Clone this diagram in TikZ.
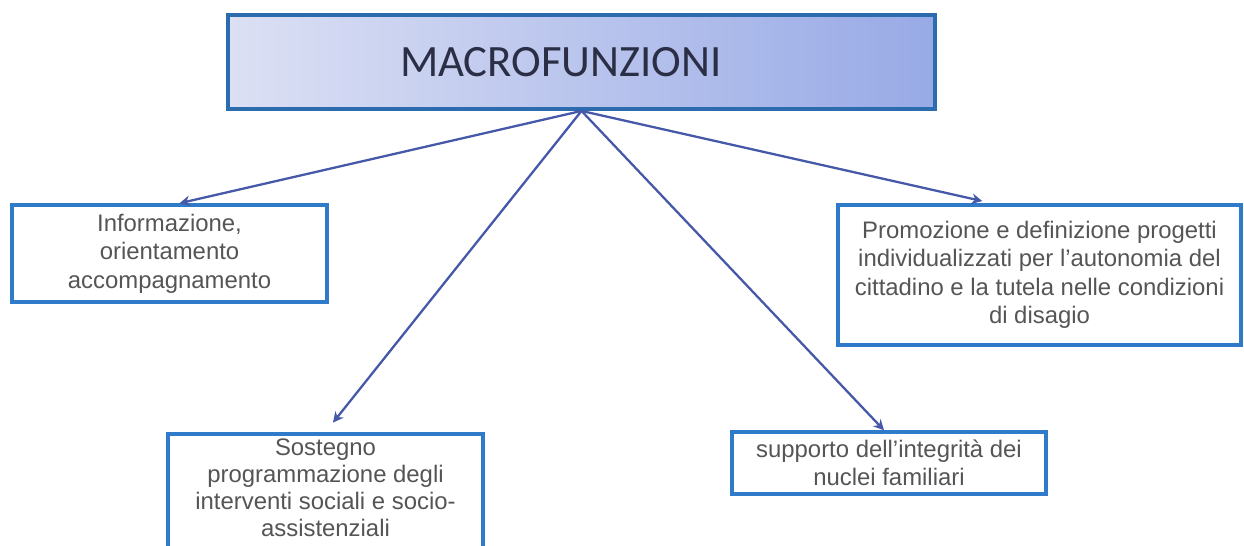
\documentclass[tikz,border=0pt]{standalone}
\usepackage{fontspec}
\setmainfont{Liberation Sans}
\newfontfamily\titlefont{Carlito}
\usepackage{tikz}
\usetikzlibrary{arrows.meta}

\definecolor{boxblue}{HTML}{2F7BC9}
\definecolor{topedge}{HTML}{2C6CAE}
\definecolor{linkblue}{HTML}{4658A8}
\definecolor{txtgray}{HTML}{555555}
\definecolor{titlegray}{HTML}{2B2F45}
\definecolor{shadeleft}{HTML}{DCE0F4}
\definecolor{shaderight}{HTML}{98AAE6}

\tikzset{
  funbox/.style={draw=boxblue, line width=2pt, fill=white, align=center,
    text=txtgray, inner sep=2pt, font=\fontsize{13.6}{16.2}\selectfont},
  link/.style={draw=linkblue, line width=1.3pt, -{Stealth[length=6pt,width=6pt]}}
}

\begin{document}
\begin{tikzpicture}[x=0.02cm, y=-0.02cm]
\useasboundingbox (0,0) rectangle (1244,545);

% draw title box
\node (macro) [draw=topedge, line width=2.2pt, left color=shadeleft, right color=shaderight,
  minimum height=1.88cm, inner xsep=3.44cm, text width=7.26cm, align=left,
  text=titlegray, font=\titlefont\fontsize{25.5}{30}\selectfont] at (581.5,62) {MACROFUNZIONI};

% draw function boxes
\node (info) [funbox, minimum width=6.3cm, minimum height=1.94cm] at (169.5,253.5)
  {Informazione,\\orientamento\\accompagnamento};
\node (sost) [funbox, minimum width=6.3cm, anchor=north, inner ysep=3pt, text depth=3cm,
  font=\fontsize{13.6}{15.4}\selectfont] at (325.5,432)
  {Sostegno\\programmazione degli\\interventi sociali e socio-\\assistenziali};
\node (supp) [funbox, minimum width=6.28cm, minimum height=1.24cm] at (889,463)
  {supporto dell'integrità dei\\nuclei familiari};
\node (prom) [funbox, minimum width=8.06cm, minimum height=2.8cm] at (1039.5,275)
  {Promozione e definizione progetti\\individualizzati per l'autonomia del\\cittadino e la tutela nelle condizioni\\di disagio};

% draw arrows
\draw[link] (macro.south) -- ([xshift=0.2cm]info.north);
\draw[link, shorten >=0.24cm] (macro.south) -- (sost.north);
\draw[link] (macro.south) -- ([xshift=-0.1cm]supp.north);
\draw[link, shorten >=0.2cm] (macro.south) -- ([xshift=-0.95cm]prom.north);

\end{tikzpicture}
\end{document}
